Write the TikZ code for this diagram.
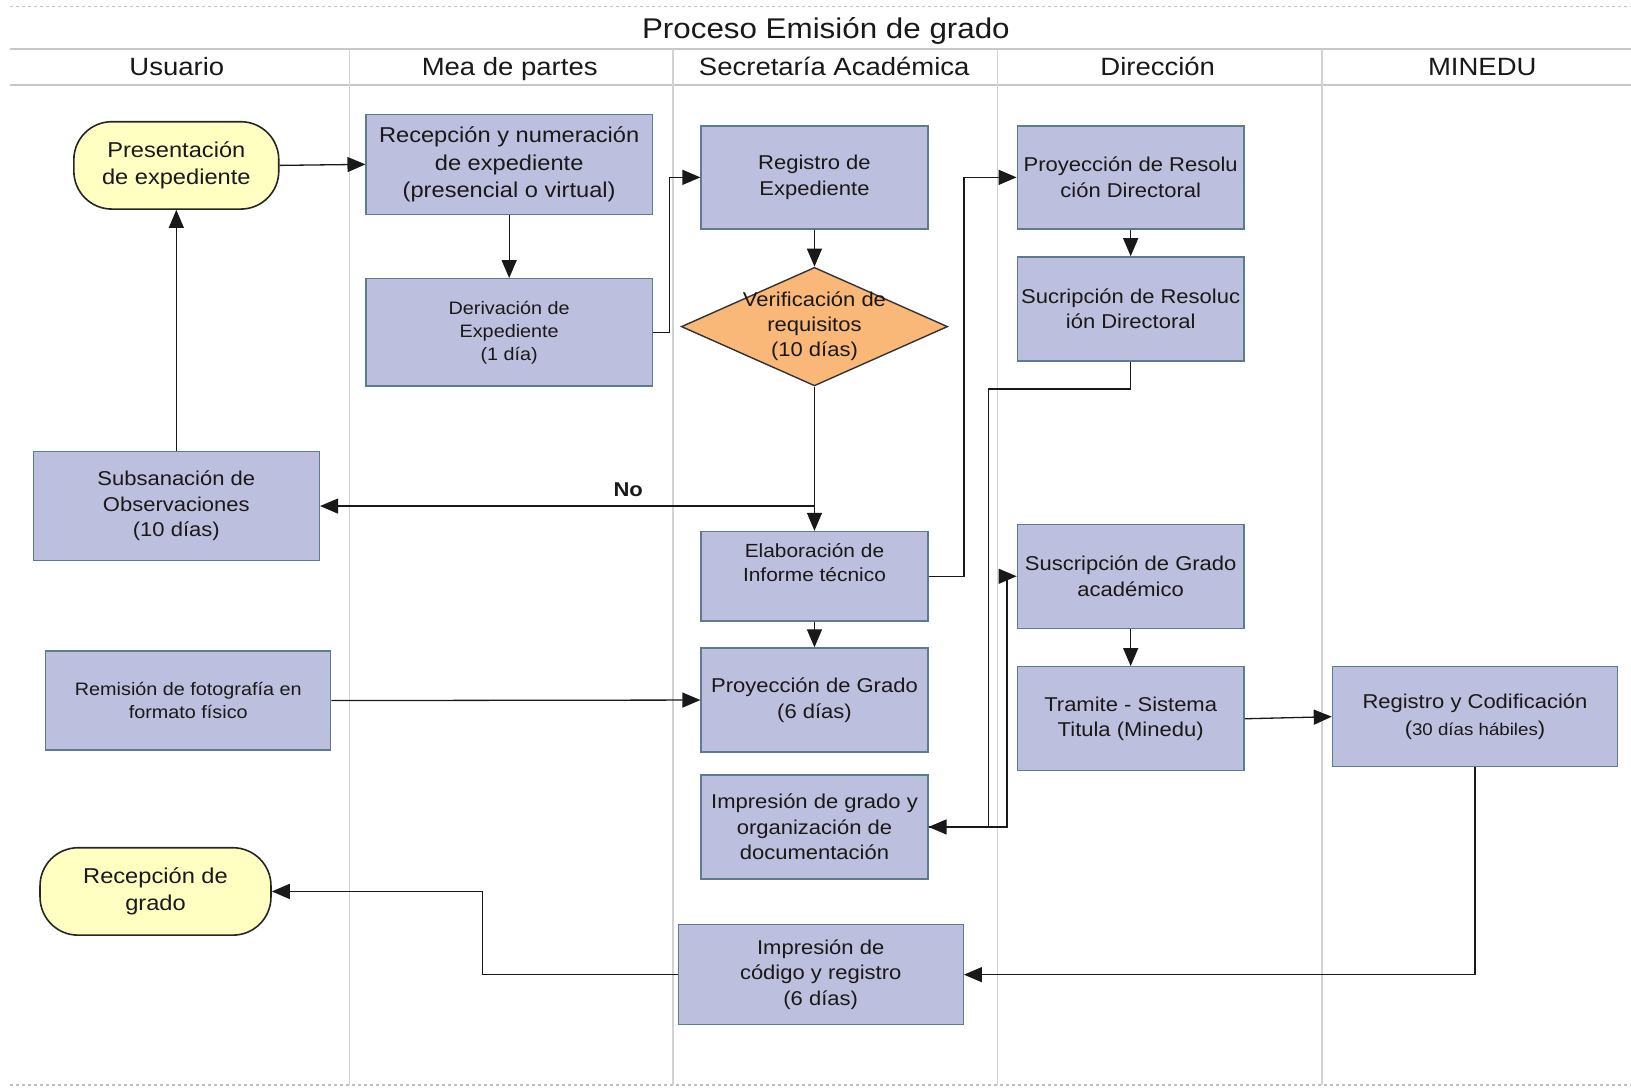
\documentclass[tikz,border=0pt]{standalone}
\usepackage{fontspec}
\setmainfont{Liberation Sans}[FakeStretch=1.1]
\usetikzlibrary{arrows.meta,shapes.geometric,calc}

\definecolor{boxfill}{RGB}{189,191,222}
\definecolor{boxline}{RGB}{92,125,140}
\definecolor{decfill}{RGB}{250,184,120}
\definecolor{termfill}{RGB}{255,255,194}
\definecolor{lanegray}{RGB}{210,210,210}
\definecolor{txt}{RGB}{25,25,25}

\newcommand\setfs[2]{\fontsize{#1}{#2}\selectfont}

\tikzset{
  px/.style 2 args={minimum width={#1*1.0402pt}, minimum height={#2*1.0402pt}},
  proc/.style={draw=boxline, fill=boxfill, line width=1.4pt, inner sep=1pt,
    align=center, text=txt, font=\setfs{20}{25.5}},
  smalltext/.style={font=\setfs{18}{23}},
  term/.style={draw=black!85, fill=termfill, line width=1.6pt, rounded corners=38pt,
    inner sep=1pt, align=center, text=txt, font=\setfs{21.5}{27}},
  decision/.style={diamond, draw=black!80, fill=decfill, line width=1.4pt, inner sep=0pt},
  arr/.style={-{Triangle[length=18pt,width=15pt]}, line width=1.3pt, draw=black!90},
  lane/.style={draw=lanegray, line width=1.3pt},
  rule/.style={draw=black!25, line width=1.2pt, dash pattern=on 3pt off 3pt},
  lanehead/.style={font=\setfs{25}{30}, text=txt, anchor=base},
}

\begin{document}
\begin{tikzpicture}[x=1.0402pt, y=-1.0402pt]
  % canvas
  \fill[white] (0,0) rectangle (1568,1047);
  \useasboundingbox (0,0) rectangle (1568,1047);

  % swimlane frame
  \draw[rule] (10,6) -- (1568,6);
  \draw[rule] (10,1043) -- (1568,1043);
  \draw[lane, line width=2pt, draw=black!22] (10,47) -- (1568,47);
  \draw[lane, line width=2pt, draw=black!22] (10,82) -- (1568,82);
  \foreach \xx in {336,647,959,1271}
    \draw[lane] (\xx,47) -- (\xx,1043);

  \node[font=\setfs{28.5}{34}, text=txt, anchor=base] (title) at (794,37) {Proceso Emisión de grado};
  \node[lanehead] (hUsuario)   at (170,73)  {Usuario};
  \node[lanehead] (hMesa)      at (490,73)  {Mea de partes};
  \node[lanehead] (hSecret)    at (802,73)  {Secretaría Académica};
  \node[lanehead] (hDireccion) at (1113,73) {Dirección};
  \node[lanehead] (hMinedu)    at (1425,73) {MINEDU};

  % process steps
  \node[term, px={197}{84}] (pres) at (169.5,159) {Presentación\\de expediente};
  \node[proc, px={275}{96}, font=\setfs{21.5}{27.5}] (recep) at (489.5,158)
    {Recepción y numeración\\de expediente\\(presencial o virtual)};
  \node[proc, smalltext, px={275}{103}] (deriv) at (489.5,319.5)
    {Derivación de\\Expediente\\(1 día)};
  \node[proc, px={218}{99}] (regexp) at (783,170.5) {Registro de\\Expediente};
  \node[decision, px={256}{114},
    label={[font=\setfs{20}{25}, align=center, text=txt]center:Verificación de\\requisitos\\(10 días)}]
    (verif) at (783,314) {};
  \node[proc, px={218}{99}] (proyres) at (1087,170.5) {Proyección de Resolu\\ción Directoral};
  \node[proc, px={218}{100}] (sucres) at (1087,297) {Sucripción de Resoluc\\ión Directoral};
  \node[proc, px={275}{105}] (subsan) at (169.5,486.5)
    {Subsanación de\\Observaciones\\(10 días)};
  \node[proc, px={218}{86}, font=\setfs{19}{24}] (elab) at (783,554)
    {Elaboración de\\Informe técnico\rule[-28pt]{0pt}{28pt}};
  \node[proc, px={218}{100}] (susgrado) at (1087,554) {Suscripción de Grado\\académico};
  \node[proc, smalltext, px={274}{95}] (remis) at (181,673.5)
    {Remisión de fotografía en\\formato físico};
  \node[proc, px={218}{100}] (proygrado) at (783,673) {Proyección de Grado\\(6 días)};
  \node[proc, px={218}{100}] (tramite) at (1087,691) {Tramite - Sistema\\Titula (Minedu)};
  \node[proc, px={274}{96}, font=\setfs{20}{27}] (regcod) at (1418,689)
    {Registro y Codificación\\({\setfs{17}{20}30 días hábiles})};
  \node[proc, px={218}{100}] (impgrado) at (783,795)
    {Impresión de grado y\\organización de\\documentación};
  \node[term, px={222}{84}] (recgrado) at (149.5,857) {Recepción de\\grado};
  \node[proc, px={274}{96}] (impcod) at (789,937)
    {Impresión de\\código y registro\\(6 días)};

  \node[font=\bfseries\setfs{20}{24}, text=txt] (nolabel) at (604,471) {No};

  % bend points
  \coordinate (bendA) at (950,374);
  \coordinate (bendB) at (968,795);
  \coordinate (bendC) at (464,937);

  % flow
  \draw[arr] (pres.east) -- (recep.west);
  \draw[arr] (recep) -- (deriv);
  \draw[arr] (deriv.east) -- ++(16,0) |- (regexp.west);
  \draw[arr] (regexp) -- (verif);
  \draw[arr] (verif.south) -- (elab.north);
  \draw[arr] (verif.south |- subsan.east) -- (subsan.east);
  \draw[arr] (subsan) -- (pres);
  \draw[arr] (elab.east) -- ++(34,0) |- (proyres.west);
  \draw[arr] (proyres) -- (sucres);
  \draw[arr] (sucres.south) |- (bendA) |- (impgrado.east);
  \draw[arr] (impgrado.east) -- (bendB) |- (susgrado.west);
  \draw[arr] (susgrado) -- (tramite);
  \draw[arr] (tramite.east) -- (regcod.west);
  \draw[arr] (regcod.south) |- (impcod.east);
  \draw[arr] (impcod.west) -- (bendC) |- (recgrado.east);
  \draw[arr] (remis.east) -- (proygrado.west);
  \draw[arr] (elab) -- (proygrado);
\end{tikzpicture}
\end{document}
